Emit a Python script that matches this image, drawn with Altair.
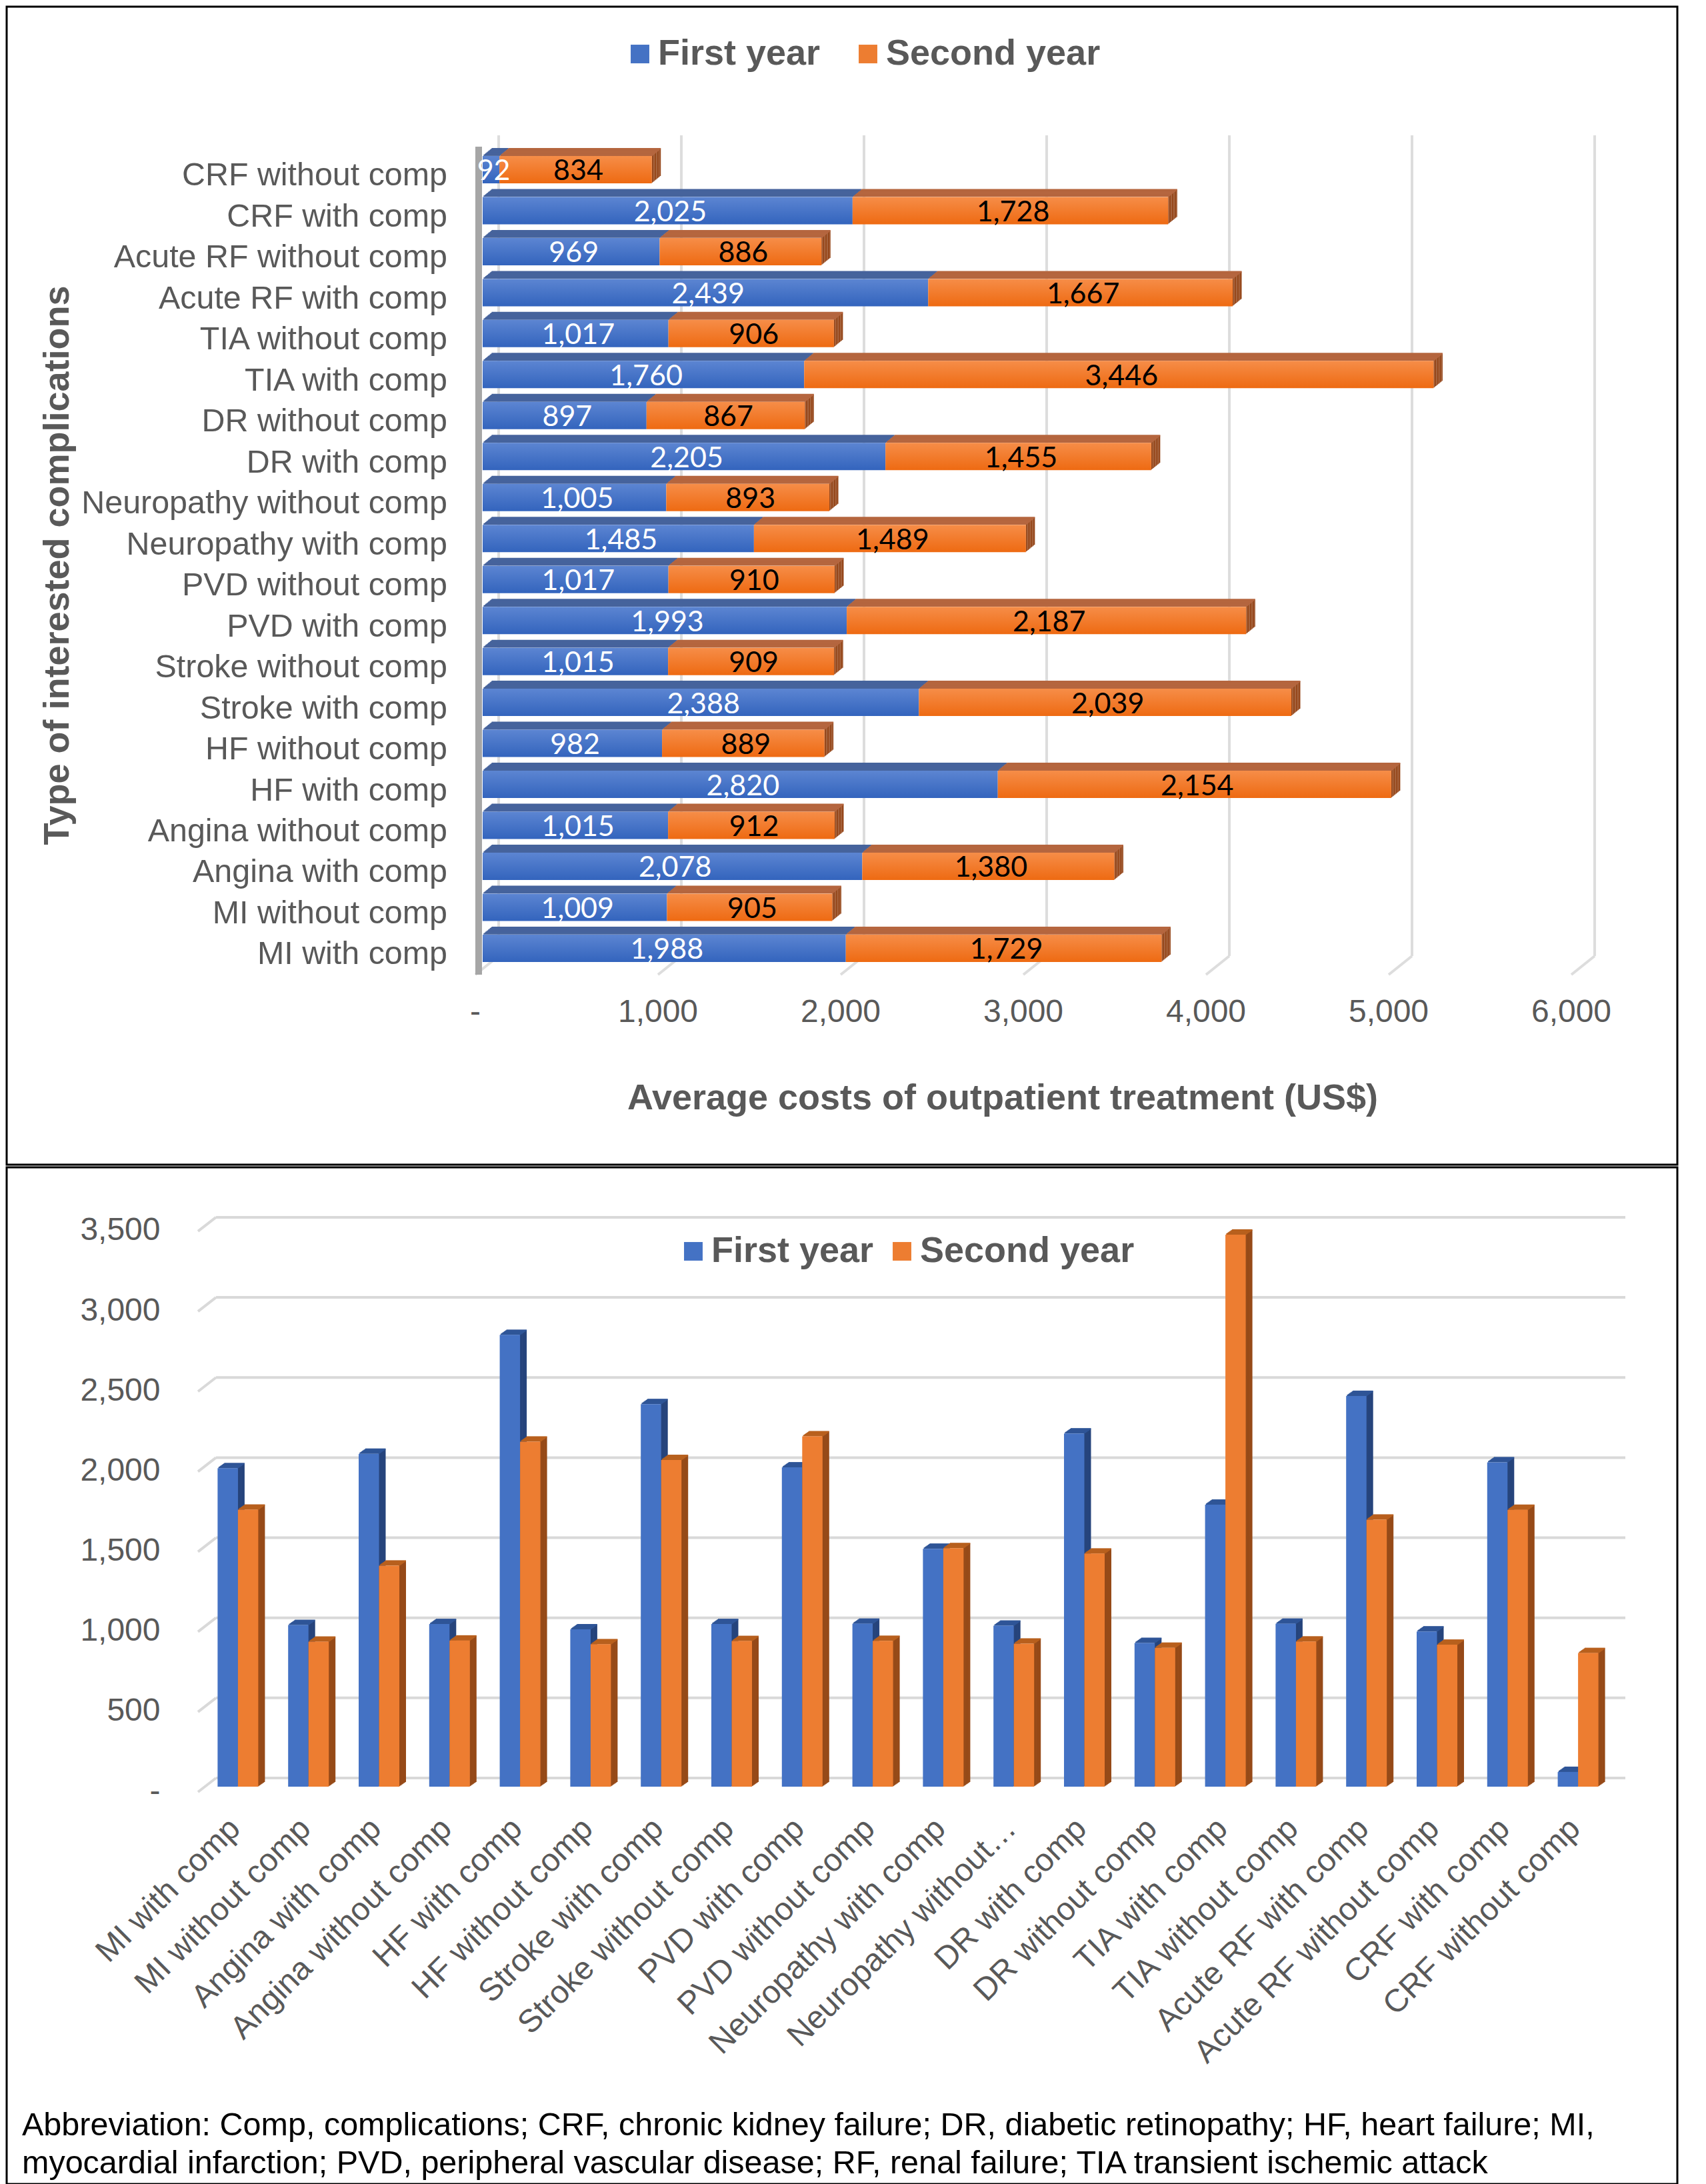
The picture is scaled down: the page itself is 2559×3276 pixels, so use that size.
import altair as alt
import pandas as pd

cats_top = ["CRF without comp","CRF with comp","Acute RF without comp","Acute RF with comp","TIA without comp",
            "TIA with comp","DR without comp","DR with comp","Neuropathy without comp","Neuropathy with comp",
            "PVD without comp","PVD with comp","Stroke without comp","Stroke with comp","HF without comp",
            "HF with comp","Angina without comp","Angina with comp","MI without comp","MI with comp"]
first_year = [92,2025,969,2439,1017,1760,897,2205,1005,1485,1017,1993,1015,2388,982,2820,1015,2078,1009,1988]
second_year = [834,1728,886,1667,906,3446,867,1455,893,1489,910,2187,909,2039,889,2154,912,1380,905,1729]
x_ticks = [0,1000,2000,3000,4000,5000,6000]
x_tick_labels = ["-","1,000","2,000","3,000","4,000","5,000","6,000"]
y_ticks = [0,500,1000,1500,2000,2500,3000,3500]
series_names = ["First year","Second year"]
notes = ["Abbreviation: Comp, complications; CRF, chronic kidney failure; DR, diabetic retinopathy; HF, heart failure; MI,",
         "myocardial infarction; PVD, peripheral vascular disease; RF, renal failure; TIA transient ischemic attack"]
axis_title_x = "Average costs of outpatient treatment (US$)"
axis_title_y = "Type of interested complications"

cats_bottom = cats_top[::-1]
cats_bottom_labels = [c if c != "Neuropathy without comp" else "Neuropathy without\u2026" for c in cats_bottom]

GREY = "#595959"
FONT = "Liberation Sans"
W = 2506
H1, H2 = 1737, 1525

df = pd.DataFrame({"cat": cats_top, "first": first_year, "second": second_year})
df["zero"] = 0
df["total"] = df["first"] + df["second"]
df["mid1"] = df["first"] / 2
df["mid2"] = df["first"] + df["second"] / 2
long_top = pd.concat([
    pd.DataFrame({"cat": cats_top, "series": series_names[0], "start": 0, "end": first_year}),
    pd.DataFrame({"cat": cats_top, "series": series_names[1], "start": first_year, "end": df["total"]}),
])
ticks_x = pd.DataFrame({"t": x_ticks, "lbl": x_tick_labels})

# ---------- top panel ----------
X0 = 714; XPX = 1644
xs = alt.Scale(domain=[0, 6000], range=[X0, X0 + XPX])
ROW0 = 244.5 - 30.75
ys = alt.Scale(domain=cats_top, range=[ROW0, ROW0 + 20 * 61.47], padding=0)
Xq = lambda f: alt.X(f"{f}:Q", scale=xs, axis=None)
Yb = alt.Y("cat:N", scale=ys, axis=None, sort=cats_top)
BAR_H = 41
DX, DY = 13.5, 11
layers = []

legend_kw = dict(title=None, orient="none", direction="horizontal", symbolType="square", symbolSize=780,
                 symbolStrokeWidth=0, labelFontSize=54, labelFont=FONT, labelFontWeight="bold", labelColor=GREY,
                 labelOffset=0, padding=0, labelLimit=700)
color_top = alt.Color("series:N", scale=alt.Scale(domain=series_names, range=["#4472c4", "#ed7d31"]),
                      legend=alt.Legend(legendX=923, legendY=44, columnPadding=44, **legend_kw))
layers.append(alt.Chart(long_top).mark_bar(size=1, opacity=0).encode(
    x=Xq("start"), x2="end:Q", y=Yb, color=color_top))

# grid
GY_TOP, GY_BACK, GY_FRONT = 193, 1424, 1452
layers.append(alt.Chart(ticks_x).mark_rule(color="#dddddd", strokeWidth=4, xOffset=24, x2Offset=24).encode(
    x=Xq("t"), x2="t:Q", y=alt.value(GY_TOP), y2=alt.value(GY_BACK)))
layers.append(alt.Chart(ticks_x).mark_rule(color="#dddddd", strokeWidth=4, xOffset=-11, x2Offset=24).encode(
    x=Xq("t"), x2="t:Q", y=alt.value(GY_FRONT), y2=alt.value(GY_BACK)))
# wall at zero
layers.append(alt.Chart(ticks_x[ticks_x.t == 0]).mark_rule(color="#a6a6a6", strokeWidth=10, xOffset=-6, x2Offset=-6).encode(
    x=Xq("t"), x2="t:Q", y=alt.value(210), y2=alt.value(GY_FRONT)))

N = 10
for i in range(N, 0, -1):
    ox, oy = DX * i / N, DY * i / N
    layers.append(alt.Chart(df).mark_bar(color="#96481c", size=BAR_H, xOffset=ox - 1.5, x2Offset=ox, yOffset=-oy).encode(
        x=Xq("total"), x2="total:Q", y=Yb))
for i in range(N, 0, -1):
    ox, oy = DX * i / N, DY * i / N
    layers.append(alt.Chart(df).mark_bar(color="#b5663f", size=2, xOffset=ox, x2Offset=ox, yOffset=-BAR_H / 2 - oy).encode(
        x=Xq("first"), x2="total:Q", y=Yb))
    layers.append(alt.Chart(df).mark_bar(color="#46639c", size=2, xOffset=ox, x2Offset=ox, yOffset=-BAR_H / 2 - oy).encode(
        x=Xq("zero"), x2="first:Q", y=Yb))

grad_b = alt.Gradient(gradient="linear", x1=0, x2=0, y1=0, y2=1,
                      stops=[alt.GradientStop(color="#5c85d2", offset=0), alt.GradientStop(color="#3364bd", offset=1)])
grad_o = alt.Gradient(gradient="linear", x1=0, x2=0, y1=0, y2=1,
                      stops=[alt.GradientStop(color="#f68d48", offset=0), alt.GradientStop(color="#ee6a12", offset=1)])
layers.append(alt.Chart(df).mark_bar(size=BAR_H, color=grad_b).encode(x=Xq("zero"), x2="first:Q", y=Yb))
layers.append(alt.Chart(df).mark_bar(size=BAR_H, color=grad_o).encode(x=Xq("first"), x2="total:Q", y=Yb))
layers.append(alt.Chart(df).mark_text(font="Lato", fontSize=43, color="white", dy=3, dx=4).encode(
    x=Xq("mid1"), y=Yb, text=alt.Text("first:Q", format=",")))
layers.append(alt.Chart(df).mark_text(font="Lato", fontSize=43, color="black", dy=3, dx=4).encode(
    x=Xq("mid2"), y=Yb, text=alt.Text("second:Q", format=",")))
# category labels, value labels and titles
layers.append(alt.Chart(df).mark_text(font=FONT, fontSize=48.4, color=GREY, align="right", baseline="middle", dy=9).encode(
    x=alt.value(661), y=Yb, text="cat:N"))
layers.append(alt.Chart(ticks_x).mark_text(font=FONT, fontSize=48, color=GREY, align="center", baseline="middle", dx=-11).encode(
    x=Xq("t"), y=alt.value(1509), text="lbl:N"))
layers.append(alt.Chart(pd.DataFrame({"s": [axis_title_x]})).mark_text(
    font=FONT, fontSize=54, fontWeight="bold", color=GREY, align="center", baseline="middle").encode(
    x=alt.value(1494), y=alt.value(1638), text="s:N"))
layers.append(alt.Chart(pd.DataFrame({"s": [axis_title_y]})).mark_text(
    font=FONT, fontSize=54, fontWeight="bold", color=GREY, align="center", baseline="middle", angle=270).encode(
    x=alt.value(77), y=alt.value(838), text="s:N"))

top = alt.layer(*layers).properties(width=W, height=H1)

# ---------- bottom panel ----------
dfb = pd.DataFrame({"cat": cats_bottom, "label": cats_bottom_labels,
                    "first": first_year[::-1], "second": second_year[::-1]})
dfb["zero"] = 0
long_b = pd.concat([
    dfb.assign(series=series_names[0], v=dfb["first"]),
    dfb.assign(series=series_names[1], v=dfb["second"]),
])
ticks_y = pd.DataFrame({"t": y_ticks})
Y0 = 2674 - 1745
YPX = 3500 * 0.2403
ysb = alt.Scale(domain=[0, 3500], range=[Y0, Y0 - YPX])
xsb = alt.Scale(domain=cats_bottom_labels, range=[294, 2410], padding=0)
Xb = alt.X("label:N", scale=xsb, axis=None, sort=cats_bottom_labels)
Yq = lambda f: alt.Y(f"{f}:Q", scale=ysb, axis=None)
BW = 30.5
bdx, bdy = 10, 7
bl = []
color_b = alt.Color("series:N", scale=alt.Scale(domain=series_names, range=["#4472c4", "#ed7d31"]),
                    legend=alt.Legend(legendX=1003, legendY=99, columnPadding=15, **legend_kw))
bl.append(alt.Chart(long_b).mark_bar(size=1, opacity=0).encode(
    x=Xb,
    y=alt.Y("v:Q", scale=ysb, axis=alt.Axis(
        values=y_ticks, domain=False, ticks=False, grid=False, offset=-230, labelFontSize=48, labelFont=FONT,
        labelColor=GREY, labelOffset=7, labelPadding=0, labelOverlap=False, labelBound=False, labelFlush=False,
        labelExpr="datum.value == 0 ? '-' : format(datum.value, ',')", title=None, zindex=1)),
    y2="zero:Q", color=color_b))
GL, GR, GLF = 314, 2428, 287
bl.append(alt.Chart(ticks_y).mark_rule(color="#d9d9d9", strokeWidth=4, yOffset=-13, y2Offset=-13).encode(
    x=alt.value(GL), x2=alt.value(GR), y=Yq("t"), y2="t:Q"))
bl.append(alt.Chart(ticks_y).mark_rule(color="#d9d9d9", strokeWidth=4, yOffset=8, y2Offset=-13).encode(
    x=alt.value(GLF), x2=alt.value(GL), y=Yq("t"), y2="t:Q"))

def series_layers(field, off, side, topc, front):
    out = []
    n = 8
    for i in range(n, 0, -1):
        ox, oy = bdx * i / n, bdy * i / n
        out.append(alt.Chart(dfb).mark_bar(color=side, size=2, xOffset=off + BW / 2 + ox - 1, yOffset=-oy, y2Offset=-oy).encode(
            x=Xb, y=Yq(field), y2="zero:Q"))
    for i in range(n, 0, -1):
        ox, oy = bdx * i / n, bdy * i / n
        out.append(alt.Chart(dfb).mark_bar(color=topc, size=BW, xOffset=off + ox, yOffset=-oy - 1, y2Offset=-oy + 1).encode(
            x=Xb, y=Yq(field), y2=f"{field}:Q"))
    out.append(alt.Chart(dfb).mark_bar(color=front, size=BW, xOffset=off).encode(x=Xb, y=Yq(field), y2="zero:Q"))
    return out

bl += series_layers("first", -BW / 2, "#26447c", "#2f5597", "#4472c4")
bl += series_layers("second", BW / 2, "#964a18", "#b8601e", "#ed7d31")
bl.append(alt.Chart(dfb).mark_text(font=FONT, fontSize=48, color=GREY, align="right", baseline="middle", angle=315, xOffset=-4).encode(
    x=Xb, y=alt.value(985), text="label:N"))
note_df = pd.DataFrame({"line": notes, "i": [0, 1]})
bl.append(alt.Chart(note_df).mark_text(font=FONT, fontSize=48.5, color="black", align="left", baseline="middle").encode(
    x=alt.value(23), y=alt.Y("i:O", scale=alt.Scale(domain=[0, 1], range=[1437, 1494], type="point", padding=0), axis=None),
    text="line:N"))

bottom = alt.layer(*bl).properties(width=W, height=H2)

chart = alt.vconcat(top, bottom, spacing=0).resolve_scale(color="independent").configure_view(
    stroke="black", strokeWidth=3).properties(padding=0, background="white")
chart.save("out.html", embed_options={"renderer": "svg", "actions": False})
